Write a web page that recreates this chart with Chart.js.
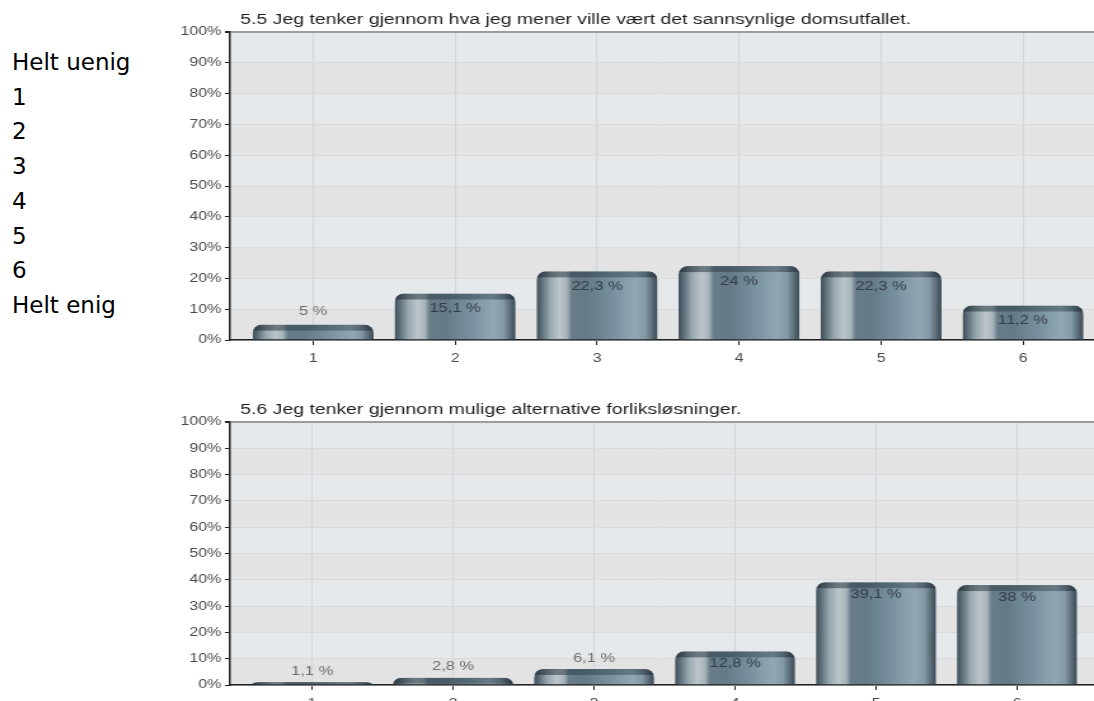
<!DOCTYPE html>
<html>
<head>
<meta charset="utf-8">
<script src="https://cdn.jsdelivr.net/npm/chart.js@4.4.1/dist/chart.umd.min.js"></script>
<style>
  html, body { margin: 0; padding: 0; width: 1094px; height: 701px; overflow: hidden; background: #fff; }
  #scale { position: absolute; left: 12px; top: 45px; font-family: 'DejaVu Sans', Verdana, sans-serif;
           font-size: 23px; line-height: 34.7px; color: #000; }
  canvas { position: absolute; left: 150px; }
</style>
</head>
<body>
<div id="scale"></div>
<!-- the chart bitmaps are drawn narrower and widened on the page -->
<canvas id="c1" width="743" height="380" style="top:0px;width:944px;height:380px;"></canvas>
<canvas id="c2" width="743" height="335" style="top:390px;width:944px;height:335px;"></canvas>
<script>
// Answer scale shown beside the charts
const scaleLabels = ['Helt uenig', '1', '2', '3', '4', '5', '6', 'Helt enig'];

// Shared axes
const categories = [1, 2, 3, 4, 5, 6];
const categoryLabels = ['1', '2', '3', '4', '5', '6'];
const yTickValues = [0, 10, 20, 30, 40, 50, 60, 70, 80, 90, 100];

// Question 5.5
const q55Title = '5.5 Jeg tenker gjennom hva jeg mener ville vært det sannsynlige domsutfallet.';
const q55Values = [5, 15.1, 22.3, 24, 22.3, 11.2];

// Question 5.6
const q56Title = '5.6 Jeg tenker gjennom mulige alternative forliksløsninger.';
const q56Values = [1.1, 2.8, 6.1, 12.8, 39.1, 38];

document.getElementById('scale').innerHTML = scaleLabels.map(s => '<div>' + s + '</div>').join('');

const FONT = "'Liberation Sans', Arial, sans-serif";
Chart.defaults.font.family = FONT;

// alternating horizontal bands behind the plot
const bandPlugin = {
  id: 'bands',
  beforeDraw(chart) {
    const { ctx, chartArea: a, scales: { y } } = chart;
    ctx.save();
    for (let i = 0; i < yTickValues.length - 1; i++) {
      const yBot = y.getPixelForValue(yTickValues[i]);
      const yTop = y.getPixelForValue(yTickValues[i + 1]);
      ctx.fillStyle = (i % 2 === 0) ? '#e3e3e4' : '#e6e9ec';
      ctx.fillRect(a.left, yTop, a.right - a.left, yBot - yTop);
    }
    ctx.restore();
  }
};

function barPath(ctx, l, t, w, b) {
  const h = b - t;
  const rx = Math.min(7, w / 2);
  const ry = Math.max(Math.min(9, h), 0.01);
  ctx.beginPath();
  ctx.moveTo(l, b);
  ctx.lineTo(l, t + ry);
  ctx.ellipse(l + rx, t + ry, rx, ry, 0, Math.PI, Math.PI * 1.5);
  ctx.lineTo(l + w - rx, t);
  ctx.ellipse(l + w - rx, t + ry, rx, ry, 0, Math.PI * 1.5, Math.PI * 2);
  ctx.lineTo(l + w, b);
  ctx.closePath();
}

function paintBar(ctx, l, t, w, b) {
  ctx.save();
  barPath(ctx, l, t, w, b);
  ctx.clip();
  const g = ctx.createLinearGradient(l, 0, l + w, 0);
  g.addColorStop(0.00, '#3d4d57');
  g.addColorStop(0.04, '#5b6d78');
  g.addColorStop(0.11, '#97a6ae');
  g.addColorStop(0.19, '#bcc6cb');
  g.addColorStop(0.25, '#a7b4bb');
  g.addColorStop(0.29, '#687d89');
  g.addColorStop(0.42, '#647a87');
  g.addColorStop(0.62, '#78909d');
  g.addColorStop(0.82, '#91a7b4');
  g.addColorStop(0.90, '#8399a6');
  g.addColorStop(0.96, '#566873');
  g.addColorStop(1.00, '#3b4a54');
  ctx.fillStyle = g;
  ctx.fillRect(l, t, w, b - t);
  // darker rim along the rounded top
  const cap = ctx.createLinearGradient(l, 0, l + w, 0);
  cap.addColorStop(0, 'rgba(28,40,48,0.6)');
  cap.addColorStop(0.3, 'rgba(35,50,60,0.45)');
  cap.addColorStop(0.8, 'rgba(35,50,60,0.38)');
  cap.addColorStop(1, 'rgba(28,40,48,0.6)');
  ctx.fillStyle = cap;
  ctx.fillRect(l, t, w, Math.min(6, b - t));
  ctx.restore();
}

const fmt = v => String(v).replace('.', ',') + ' %';

// gradient bars plus their value labels
const barPlugin = {
  id: 'barPainter',
  afterDatasetsDraw(chart, args, opts) {
    const ctx = chart.ctx;
    const meta = chart.getDatasetMeta(0);
    const values = chart.data.datasets[0].data.map(d => d.y);
    ctx.save();
    meta.data.forEach(bar => {
      const { x, y, base, width } = bar.getProps(['x', 'y', 'base', 'width'], true);
      paintBar(ctx, x - width / 2, y, width, base);
    });
    ctx.font = '13px ' + FONT;
    ctx.textAlign = 'center';
    ctx.textBaseline = 'middle';
    meta.data.forEach((bar, i) => {
      const { x, y } = bar.getProps(['x', 'y'], true);
      const v = values[i];
      if (v >= 10) {
        ctx.fillStyle = '#323d45';
        ctx.fillText(fmt(v), x, y + opts.inside);
      } else {
        ctx.fillStyle = '#6e6e6e';
        ctx.fillText(fmt(v), x, y - opts.above);
      }
    });
    ctx.restore();
  }
};

// question text above the plot, left aligned
const titlePlugin = {
  id: 'questionTitle',
  afterDraw(chart, args, opts) {
    const { ctx, chartArea: a } = chart;
    ctx.save();
    ctx.font = '15.3px ' + FONT;
    ctx.fillStyle = '#1e1e1e';
    ctx.textAlign = 'left';
    ctx.textBaseline = 'alphabetic';
    ctx.fillText(opts.text, a.left + 8, a.top - 8);
    ctx.restore();
  }
};

function buildChart(id, title, values, xMin, xMax, inside, above) {
  return new Chart(document.getElementById(id), {
    type: 'bar',
    data: {
      datasets: [{
        data: categories.map((c, i) => ({ x: c, y: values[i] })),
        backgroundColor: 'rgba(0,0,0,0)',
        borderWidth: 0,
        barPercentage: 0.852,
        categoryPercentage: 1
      }]
    },
    options: {
      responsive: false,
      animation: false,
      events: [],
      layout: { padding: { top: 32, left: 0, right: 0, bottom: 0 } },
      plugins: {
        legend: { display: false },
        tooltip: { enabled: false },
        questionTitle: { text: title },
        barPainter: { inside: inside, above: above }
      },
      scales: {
        x: {
          type: 'linear',
          min: xMin,
          max: xMax,
          offset: false,
          afterBuildTicks: s => { s.ticks = categories.map(v => ({ value: v })); },
          afterFit: s => { s.height = 40; },
          ticks: {
            callback: (v) => categoryLabels[categories.indexOf(v)],
            color: '#4a4a4a',
            font: { size: 12.5 },
            padding: 6
          },
          grid: { offset: false, color: '#d2d5d9', tickColor: '#222', tickLength: 5 },
          border: { color: '#222', width: 1.5 }
        },
        y: {
          min: 0,
          max: 100,
          afterBuildTicks: s => { s.ticks = yTickValues.map(v => ({ value: v })); },
          afterFit: s => { s.width = 63; },
          ticks: {
            callback: v => v + '%',
            color: '#4a4a4a',
            font: { size: 12.5 },
            padding: 3
          },
          grid: {
            color: c => (c.tick && c.tick.value === 100) ? '#9c9c9c' : '#d8dadd',
            lineWidth: c => (c.tick && c.tick.value === 100) ? 2 : 1,
            tickColor: '#222',
            tickLength: 4
          },
          border: { color: '#222', width: 1.5 }
        }
      }
    },
    plugins: [bandPlugin, barPlugin, titlePlugin]
  });
}

buildChart('c1', q55Title, q55Values, 0.415, 6.5, 15, 13);
buildChart('c2', q56Title, q56Values, 0.418, 6.546, 12, 11);
</script>
</body>
</html>
